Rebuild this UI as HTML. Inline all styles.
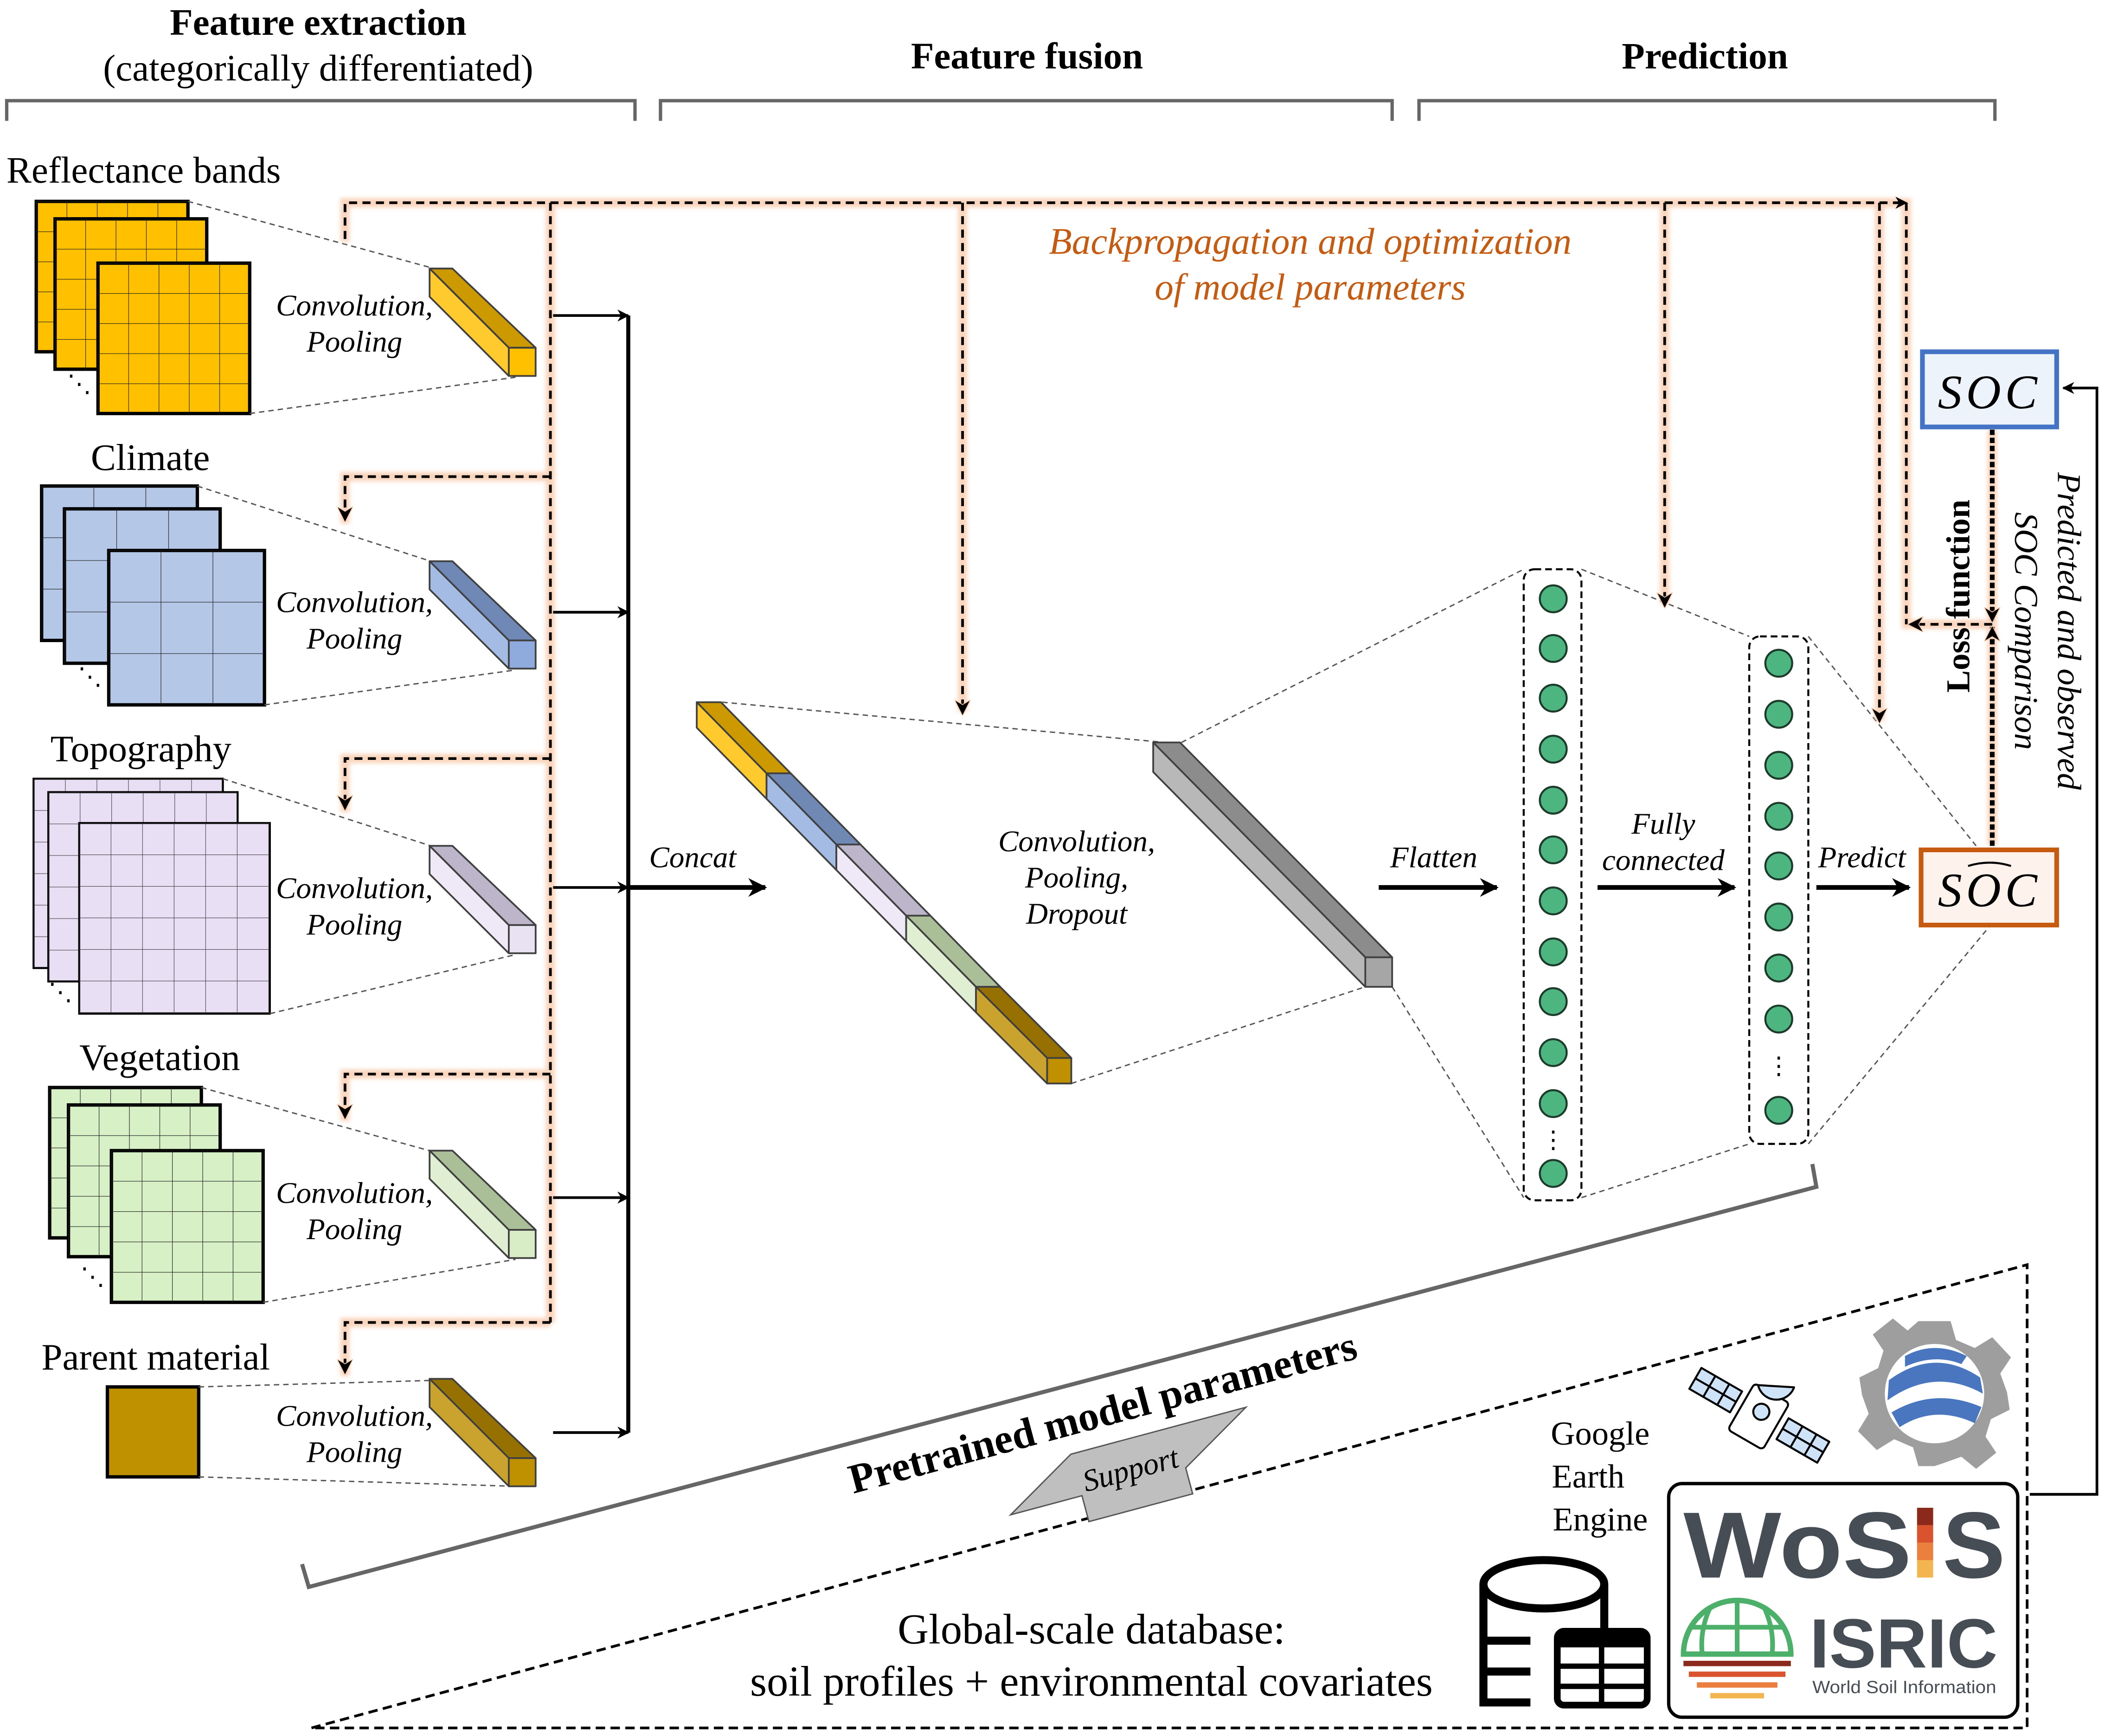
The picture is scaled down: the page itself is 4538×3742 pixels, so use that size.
<!DOCTYPE html>
<html><head><meta charset="utf-8"><style>
html,body{margin:0;padding:0;background:#fff;}
svg{display:block;}
text{font-family:"Liberation Serif",serif;}
text.sans{font-family:"Liberation Sans",sans-serif;}
</style></head><body>
<svg xmlns="http://www.w3.org/2000/svg" width="4538" height="3742" viewBox="0 0 1568 1293" preserveAspectRatio="none">
<defs>
<marker id="ah" viewBox="0 0 10 10" refX="9" refY="5" markerWidth="9" markerHeight="9" orient="auto" markerUnits="userSpaceOnUse"><path d="M0,0 L10,5 L0,10 L3,5z" fill="#000"/></marker>
<marker id="ab" viewBox="0 0 10 10" refX="9" refY="5" markerWidth="14" markerHeight="14" orient="auto" markerUnits="userSpaceOnUse"><path d="M0,0 L10,5 L0,10 L3,5z" fill="#000"/></marker>
<marker id="ao" viewBox="0 0 10 10" refX="9" refY="5" markerWidth="12" markerHeight="12" orient="auto" markerUnits="userSpaceOnUse"><path d="M0,0 L10,5 L0,10 L3,5z" fill="#000" stroke="#F8CBAD" stroke-width="0.5"/></marker>
<pattern id="p1" x="27" y="150" width="22.6" height="22.4" patternUnits="userSpaceOnUse"><path d="M0 0H23M0 0V23" stroke="#222" stroke-width="0.8" fill="none"/></pattern>
<pattern id="p2" x="41" y="163" width="22.6" height="22.4" patternUnits="userSpaceOnUse"><path d="M0 0H23M0 0V23" stroke="#222" stroke-width="0.8" fill="none"/></pattern>
<pattern id="p3" x="73" y="196" width="22.6" height="22.4" patternUnits="userSpaceOnUse"><path d="M0 0H23M0 0V23" stroke="#222" stroke-width="0.8" fill="none"/></pattern>
<pattern id="c1" x="31" y="362" width="38.7" height="38.3" patternUnits="userSpaceOnUse"><path d="M0 0H40M0 0V40" stroke="#222" stroke-width="0.8" fill="none"/></pattern>
<pattern id="c2" x="48" y="379" width="38.7" height="38.3" patternUnits="userSpaceOnUse"><path d="M0 0H40M0 0V40" stroke="#222" stroke-width="0.8" fill="none"/></pattern>
<pattern id="c3" x="81" y="410" width="38.7" height="38.3" patternUnits="userSpaceOnUse"><path d="M0 0H40M0 0V40" stroke="#222" stroke-width="0.8" fill="none"/></pattern>
<pattern id="t1" x="25" y="580" width="23.5" height="23.5" patternUnits="userSpaceOnUse"><path d="M0 0H24M0 0V24" stroke="#333" stroke-width="0.7" fill="none"/></pattern>
<pattern id="t2" x="36" y="590" width="23.5" height="23.5" patternUnits="userSpaceOnUse"><path d="M0 0H24M0 0V24" stroke="#333" stroke-width="0.7" fill="none"/></pattern>
<pattern id="t3" x="59" y="613" width="23.5" height="23.5" patternUnits="userSpaceOnUse"><path d="M0 0H24M0 0V24" stroke="#333" stroke-width="0.7" fill="none"/></pattern>
<pattern id="v1" x="37" y="810" width="22.6" height="22.4" patternUnits="userSpaceOnUse"><path d="M0 0H23M0 0V23" stroke="#222" stroke-width="0.8" fill="none"/></pattern>
<pattern id="v2" x="51" y="823" width="22.6" height="22.6" patternUnits="userSpaceOnUse"><path d="M0 0H23M0 0V23" stroke="#222" stroke-width="0.8" fill="none"/></pattern>
<pattern id="v3" x="83" y="857" width="22.6" height="22.6" patternUnits="userSpaceOnUse"><path d="M0 0H23M0 0V23" stroke="#222" stroke-width="0.8" fill="none"/></pattern>
<filter id="blur"><feGaussianBlur stdDeviation="1.5"/></filter>
</defs>

<!-- headers -->
<g font-size="28" text-anchor="middle" fill="#000">
<text x="237" y="26" font-weight="bold">Feature extraction</text>
<text x="237" y="60">(categorically differentiated)</text>
<text x="765" y="51" font-weight="bold">Feature fusion</text>
<text x="1270" y="51" font-weight="bold">Prediction</text>
</g>
<g stroke="#666" stroke-width="2.5" fill="none">
<path d="M5 90V75H473V90"/><path d="M492 90V75H1037V90"/><path d="M1057 90V75H1486V90"/>
</g>

<!-- input labels -->
<g font-size="28" text-anchor="middle">
<text x="107" y="136">Reflectance bands</text>
<text x="112" y="350">Climate</text>
<text x="105" y="567">Topography</text>
<text x="119" y="797">Vegetation</text>
<text x="116" y="1020">Parent material</text>
</g>

<!-- grids -->
<g stroke="#000" stroke-width="2.5">
<rect x="27" y="150" width="113" height="112" fill="#FFC000"/><rect x="27" y="150" width="113" height="112" fill="url(#p1)" stroke="none"/>
<rect x="41" y="163" width="113" height="112" fill="#FFC000"/><rect x="41" y="163" width="113" height="112" fill="url(#p2)" stroke="none"/>
<rect x="73" y="196" width="113" height="112" fill="#FFC000"/><rect x="73" y="196" width="113" height="112" fill="url(#p3)" stroke="none"/>
<rect x="31" y="362" width="116" height="115" fill="#B4C7E7"/><rect x="31" y="362" width="116" height="115" fill="url(#c1)" stroke="none"/>
<rect x="48" y="379" width="116" height="115" fill="#B4C7E7"/><rect x="48" y="379" width="116" height="115" fill="url(#c2)" stroke="none"/>
<rect x="81" y="410" width="116" height="115" fill="#B4C7E7"/><rect x="81" y="410" width="116" height="115" fill="url(#c3)" stroke="none"/>
<rect x="25" y="580" width="141" height="141" fill="#E9DFF5" stroke-width="1.5"/><rect x="25" y="580" width="141" height="141" fill="url(#t1)" stroke="none"/>
<rect x="36" y="590" width="141" height="141" fill="#E9DFF5" stroke-width="1.5"/><rect x="36" y="590" width="141" height="141" fill="url(#t2)" stroke="none"/>
<rect x="59" y="613" width="142" height="142" fill="#E9DFF5" stroke-width="1.5"/><rect x="59" y="613" width="142" height="142" fill="url(#t3)" stroke="none"/>
<rect x="37" y="810" width="113" height="112" fill="#D8F0C6"/><rect x="37" y="810" width="113" height="112" fill="url(#v1)" stroke="none"/>
<rect x="51" y="823" width="113" height="113" fill="#D8F0C6"/><rect x="51" y="823" width="113" height="113" fill="url(#v2)" stroke="none"/>
<rect x="83" y="857" width="113" height="113" fill="#D8F0C6"/><rect x="83" y="857" width="113" height="113" fill="url(#v3)" stroke="none"/>
<rect x="80" y="1033" width="68" height="67" fill="#BF9000"/>
</g>
<g font-size="18" fill="#000">
<text x="50" y="292">⋱</text><text x="58" y="510">⋱</text><text x="36" y="745">⋱</text><text x="60" y="957">⋱</text>
</g>

<!-- thin dashed to cuboids -->
<g stroke="#555" stroke-width="1" stroke-dasharray="4 3" fill="none">
<path d="M140 150L327 201M186 308L384 281"/>
<path d="M147 362L327 420M197 525L384 499"/>
<path d="M166 580L327 632M201 755L384 711"/>
<path d="M150 810L327 859M196 970L384 938"/>
<path d="M148 1033L327 1028M148 1100L384 1107"/>
<path d="M538 523L868 553M798 807L1017 735"/>
<path d="M880 553L1135 424M1037 735L1135 892"/>
<path d="M1178 424L1303 474M1178 892L1303 852"/>
<path d="M1347 474L1472 630M1347 852L1482 690"/>
</g>

<!-- small cuboids -->
<g stroke="#404040" stroke-width="1.3" stroke-linejoin="round">
<g transform="translate(320,200)"><polygon points="0,0 17,0 79,59 59,59" fill="#CC9900"/><polygon points="0,0 0,21 59,80 59,59" fill="#FFCA2E"/><rect x="59" y="59" width="20" height="21" fill="#FFC000"/></g>
<g transform="translate(320,418)"><polygon points="0,0 17,0 79,59 59,59" fill="#6F88B5"/><polygon points="0,0 0,21 59,80 59,59" fill="#A4BCE4"/><rect x="59" y="59" width="20" height="21" fill="#8FAADC"/></g>
<g transform="translate(320,630)"><polygon points="0,0 17,0 79,59 59,59" fill="#BDB5C9"/><polygon points="0,0 0,21 59,80 59,59" fill="#EEE8F7"/><rect x="59" y="59" width="20" height="21" fill="#E8E2F2"/></g>
<g transform="translate(320,857)"><polygon points="0,0 17,0 79,59 59,59" fill="#AABF98"/><polygon points="0,0 0,21 59,80 59,59" fill="#E0EFD2"/><rect x="59" y="59" width="20" height="21" fill="#D8EDC6"/></g>
<g transform="translate(320,1027)"><polygon points="0,0 17,0 79,59 59,59" fill="#967000"/><polygon points="0,0 0,21 59,80 59,59" fill="#C9A32E"/><rect x="59" y="59" width="20" height="21" fill="#BF9000"/></g>
</g>
<g font-size="22.5" font-style="italic" text-anchor="middle">
<text x="264" y="235">Convolution,</text><text x="264" y="262">Pooling</text>
<text x="264" y="456">Convolution,</text><text x="264" y="483">Pooling</text>
<text x="264" y="669">Convolution,</text><text x="264" y="696">Pooling</text>
<text x="264" y="896">Convolution,</text><text x="264" y="923">Pooling</text>
<text x="264" y="1062">Convolution,</text><text x="264" y="1089">Pooling</text>
</g>

<!-- backprop orange dashed -->
<g fill="none" stroke="#F8CBAD" stroke-width="7" opacity="0.8" filter="url(#blur)">
<path d="M257 180V151H1420V465H1484"/>
<path d="M410 151V985"/>
<path d="M410 355H257V390M410 565H257V605M410 800H257V835M410 985H257V1025"/>
<path d="M717 151V530M1240 151V450M1400 151V537"/>
<path d="M1484 320V630"/>
</g>
<g fill="none" stroke="#000" stroke-width="2" stroke-dasharray="6 4">
<path d="M257 178V151H1420" marker-end="url(#ah)"/>
<path d="M410 151V985"/>
<path d="M410 355H257V388" marker-end="url(#ao)"/>
<path d="M410 565H257V603" marker-end="url(#ao)"/>
<path d="M410 800H257V833" marker-end="url(#ao)"/>
<path d="M410 985H257V1023" marker-end="url(#ao)"/>
<path d="M717 151V532" marker-end="url(#ao)"/>
<path d="M1240 151V452" marker-end="url(#ao)"/>
<path d="M1400 151V538" marker-end="url(#ao)"/>
<path d="M1420 151V465" />
<path d="M1484 465H1422" marker-end="url(#ao)"/>
</g>
<g fill="none" stroke="#000" stroke-width="3.5" stroke-dasharray="4 2">
<path d="M1484 320V463" marker-end="url(#ao)"/>
<path d="M1484 630V467" marker-end="url(#ao)"/>
</g>
<g font-size="28" font-style="italic" fill="#C55A11" text-anchor="middle">
<text x="976" y="189">Backpropagation and optimization</text>
<text x="976" y="223">of model parameters</text>
</g>

<!-- arrows to bus -->
<g stroke="#000" stroke-width="2" fill="none">
<path d="M412 235H468" marker-end="url(#ah)"/>
<path d="M412 456H468" marker-end="url(#ah)"/>
<path d="M412 661H468" marker-end="url(#ah)"/>
<path d="M412 892H468" marker-end="url(#ah)"/>
<path d="M412 1067H468" marker-end="url(#ah)"/>
<path d="M468 235V1067" stroke-width="3"/>
</g>
<g stroke="#000" stroke-width="3.5" fill="none">
<path d="M468 661H570" marker-end="url(#ab)"/>
<path d="M1027 661H1115" marker-end="url(#ab)"/>
<path d="M1190 661H1292" marker-end="url(#ab)"/>
<path d="M1353 661H1422" marker-end="url(#ab)"/>
</g>
<g font-size="22.5" font-style="italic" text-anchor="middle">
<text x="516" y="646">Concat</text>
<text x="802" y="634">Convolution,</text><text x="802" y="661">Pooling,</text><text x="802" y="688">Dropout</text>
<text x="1068" y="646">Flatten</text>
<text x="1239" y="621">Fully</text><text x="1239" y="648">connected</text>
<text x="1387" y="646">Predict</text>
</g>

<!-- concat bar -->
<g stroke="#404040" stroke-width="1.3" stroke-linejoin="round">
<polygon points="519,523 537,523 589,576 571,576" fill="#CC9900"/><polygon points="519,523 519,542 571,595 571,576" fill="#FFCA2E"/>
<polygon points="571,576 589,576 641,629 623,629" fill="#7088B4"/><polygon points="571,576 571,595 623,648 623,629" fill="#A4BCE4"/>
<polygon points="623,629 641,629 693,682 675,682" fill="#BDB5C9"/><polygon points="623,629 623,648 675,701 675,682" fill="#EEE8F7"/>
<polygon points="675,682 693,682 745,735 727,735" fill="#AABF98"/><polygon points="675,682 675,701 727,754 727,735" fill="#E0EFD2"/>
<polygon points="727,735 745,735 798,788 780,788" fill="#967000"/><polygon points="727,735 727,754 780,807 780,788" fill="#C9A32E"/>
<rect x="780" y="788" width="18" height="19" fill="#BF9000"/>
</g>
<!-- gray bar -->
<g stroke="#404040" stroke-width="1.3" stroke-linejoin="round">
<polygon points="859,553 879,553 1037,713 1017,713" fill="#8C8C8C"/>
<polygon points="859,553 859,575 1017,735 1017,713" fill="#B8B8B8"/>
<rect x="1017" y="713" width="20" height="22" fill="#A6A6A6"/>
</g>

<!-- FC layers -->
<rect x="1135" y="424" width="43" height="470" rx="8" fill="none" stroke="#000" stroke-width="1.5" stroke-dasharray="5 3"/>
<rect x="1303" y="474" width="44" height="378" rx="8" fill="none" stroke="#000" stroke-width="1.5" stroke-dasharray="5 3"/>
<g fill="#4DB680" stroke="#1d3b2b" stroke-width="1.5">
<circle cx="1157" cy="446" r="10"/><circle cx="1157" cy="483" r="10"/><circle cx="1157" cy="520" r="10"/><circle cx="1157" cy="558" r="10"/><circle cx="1157" cy="596" r="10"/><circle cx="1157" cy="633" r="10"/><circle cx="1157" cy="671" r="10"/><circle cx="1157" cy="709" r="10"/><circle cx="1157" cy="746" r="10"/><circle cx="1157" cy="784" r="10"/><circle cx="1157" cy="822" r="10"/><circle cx="1157" cy="874" r="10"/>
<circle cx="1325" cy="494" r="10"/><circle cx="1325" cy="532" r="10"/><circle cx="1325" cy="570" r="10"/><circle cx="1325" cy="608" r="10"/><circle cx="1325" cy="645" r="10"/><circle cx="1325" cy="683" r="10"/><circle cx="1325" cy="721" r="10"/><circle cx="1325" cy="759" r="10"/><circle cx="1325" cy="827" r="10"/>
</g>
<g font-size="18" text-anchor="middle"><text x="1157" y="855">⋮</text><text x="1325" y="800">⋮</text></g>

<!-- SOC boxes -->
<rect x="1432" y="262" width="100" height="56" fill="#EDF3FB" stroke="#4472C4" stroke-width="3.5"/>
<text x="1482" y="304" font-size="36" font-style="italic" text-anchor="middle" letter-spacing="3">SOC</text>
<rect x="1431" y="633" width="101" height="56" fill="#FDF3EC" stroke="#C55A11" stroke-width="3.5"/>
<text x="1482" y="675" font-size="36" font-style="italic" text-anchor="middle" letter-spacing="3">SOC</text>
<path d="M1466 645Q1482 640 1498 645" stroke="#000" stroke-width="1.5" fill="none"/>
<text transform="translate(1467,444) rotate(-90)" font-size="25" font-weight="bold" text-anchor="middle">Loss function</text>
<text transform="translate(1533,470) rotate(90)" font-size="25" font-style="italic" text-anchor="middle">Predicted and observed</text>
<text transform="translate(1501,470) rotate(90)" font-size="25" font-style="italic" text-anchor="middle">SOC Comparison</text>
<path d="M1512 1113H1562V289H1537" stroke="#000" stroke-width="2" fill="none" marker-end="url(#ah)"/>

<!-- bottom -->
<path d="M225 1165L230 1182L1353 884L1350 867" stroke="#666" stroke-width="3" fill="none"/>
<path d="M232 1287L1510 942V1287Z" stroke="#000" stroke-width="2" stroke-dasharray="7 4" fill="none"/>
<text transform="translate(824,1062) rotate(-15)" font-size="31" font-weight="bold" text-anchor="middle">Pretrained model parameters</text>
<g transform="translate(842,1094) rotate(-15)">
<polygon points="-95,10 -40,-22 95,-22 40,10 40,30 -40,30 -40,10" fill="#BFBFBF" stroke="#555" stroke-width="1"/>
<text x="0" y="8" font-size="23" font-style="italic" text-anchor="middle">Support</text>
</g>
<g font-size="32" text-anchor="middle">
<text x="813" y="1224">Global-scale database:</text>
<text x="813" y="1263">soil profiles + environmental covariates</text>
</g>
<g font-size="25" text-anchor="middle">
<text x="1192" y="1076">Google</text><text x="1183" y="1108">Earth</text><text x="1192" y="1140">Engine</text>
</g>
<!-- database icon -->
<g stroke="#000" stroke-width="6" fill="none">
<ellipse cx="1150" cy="1180" rx="45" ry="18"/>
<path d="M1105 1180V1268H1140M1195 1180V1222M1105 1222H1140M1105 1245H1140"/>
</g>
<rect x="1160" y="1215" width="67" height="55" rx="5" fill="#fff" stroke="#000" stroke-width="5"/>
<rect x="1160" y="1215" width="67" height="12" fill="#000"/>
<path d="M1193 1227V1270M1160 1241H1227M1160 1256H1227" stroke="#000" stroke-width="4"/>
<!-- satellite -->
<g stroke="#000" stroke-width="1.5" fill="#CFE3F8" stroke-linejoin="round">
<g transform="translate(1310,1055) rotate(30)">
<rect x="-15" y="-20" width="30" height="40" rx="3" fill="#fff"/>
<circle cx="0" cy="-4" r="6"/>
<rect x="-55" y="-10" width="35" height="18"/><rect x="20" y="-10" width="35" height="18"/>
<path d="M-55 -1H-20M-43 -10V8M-31 -10V8M20 -1H55M32 -10V8M44 -10V8" fill="none"/>
<path d="M-12 -20A14 14 0 0 0 12 -32Z"/>
</g>
</g>
<!-- GEE gear -->
<g transform="translate(1441,1038)">
<path d="M-12,-54 L12,-54 L16,-40 L30,-34 L43,-42 L57,-27 L49,-15 L54,-1 L56,12 L42,19 L38,32 L46,44 L31,56 L20,47 L6,52 L0,54 L-12,54 L-16,40 L-30,34 L-43,42 L-57,28 L-49,15 L-54,1 L-56,-12 L-42,-19 L-38,-32 L-46,-44 L-31,-56 L-20,-47 Z" fill="#9E9E9E"/>
<circle r="37" fill="#fff"/>
<path d="M-34,-10 Q0,-35 34,-12 L36,0 Q0,-20 -35,5Z" fill="#4A76C0"/>
<path d="M-32,14 Q0,-5 35,10 L30,22 Q0,8 -26,25Z" fill="#4A76C0"/>
<path d="M-22,-28 Q0,-40 24,-28 L20,-22 Q0,-30 -22,-20Z" fill="#4A76C0"/>
</g>
<!-- WoSIS box -->
<rect x="1243" y="1105" width="260" height="174" rx="10" fill="#fff" stroke="#000" stroke-width="2.5"/>
<text class="sans" x="1254" y="1175" font-size="70" font-weight="bold" fill="#474D54" textLength="170" lengthAdjust="spacingAndGlyphs">WoS</text>
<rect x="1428" y="1123" width="12" height="52" fill="#F3B54F"/>
<rect x="1428" y="1123" width="12" height="13" fill="#8B2A1C"/><rect x="1428" y="1136" width="12" height="13" fill="#D9532E"/><rect x="1428" y="1149" width="12" height="13" fill="#EB7F3E"/>
<text class="sans" x="1447" y="1175" font-size="70" font-weight="bold" fill="#474D54">S</text>
<text class="sans" x="1348" y="1242" font-size="52" font-weight="bold" fill="#474D54" textLength="140" lengthAdjust="spacingAndGlyphs">ISRIC</text>
<text class="sans" x="1350" y="1261" font-size="13" fill="#474D54" textLength="137" lengthAdjust="spacingAndGlyphs">World Soil Information</text>
<g transform="translate(1294,1232)">
<path d="M-40,0 A40,40 0 0 1 40,0 Z" fill="none" stroke="#4CAF6A" stroke-width="4"/>
<path d="M0,-40V0M-20,-35Q-28,-18 -26,0M20,-35Q28,-18 26,0M-34,-20H34" fill="none" stroke="#4CAF6A" stroke-width="3.5"/>
<rect x="-40" y="5" width="80" height="4" fill="#8B2A1C"/>
<rect x="-36" y="13" width="72" height="4" fill="#D9532E"/>
<rect x="-30" y="21" width="60" height="4" fill="#EB7F3E"/>
<rect x="-20" y="29" width="40" height="4" fill="#F3B54F"/>
</g>
</svg>
</body></html>
